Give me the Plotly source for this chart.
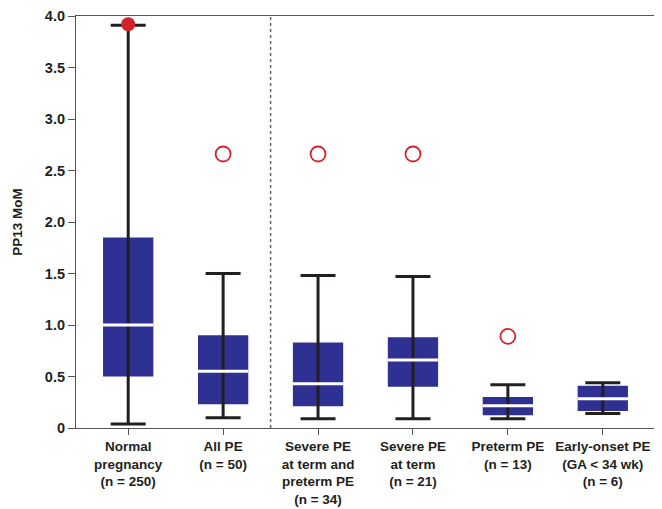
import plotly.graph_objects as go

categories = ["Normal<br>pregnancy<br>(n = 250)", "All PE<br>(n = 50)",
              "Severe PE<br>at term and<br>preterm PE<br>(n = 34)", "Severe PE<br>at term<br>(n = 21)",
              "Preterm PE<br>(n = 13)", "Early-onset PE<br>(GA < 34 wk)<br>(n = 6)"]
lower = [0.04, 0.10, 0.09, 0.09, 0.09, 0.14]
q1 = [0.50, 0.23, 0.21, 0.40, 0.125, 0.165]
median = [1.00, 0.55, 0.43, 0.66, 0.215, 0.285]
q3 = [1.85, 0.90, 0.83, 0.88, 0.30, 0.41]
upper = [3.91, 1.50, 1.48, 1.47, 0.42, 0.44]
max_point_x = [0]
max_point_y = [3.92]
outlier_x = [1, 2, 3, 4]
outlier_y = [2.66, 2.66, 2.66, 0.89]
yticks = [0, 0.5, 1.0, 1.5, 2.0, 2.5, 3.0, 3.5, 4.0]
ytick_text = ["0", "0.5", "1.0", "1.5", "2.0", "2.5", "3.0", "3.5", "4.0"]

xpos = list(range(len(categories)))
BLUE = "#2E3192"
RED = "#D2232A"
INK = "#231F20"
FONT = "Liberation Sans, Arial, sans-serif"

fig = go.Figure()
# whisker stems (lower whisker end to upper whisker end, hidden behind boxes)
fig.add_trace(go.Scatter(x=xpos, y=lower, mode="markers", marker=dict(size=0.1, color="rgba(0,0,0,0)"),
                         error_y=dict(type="data", symmetric=False, array=[u - l for u, l in zip(upper, lower)],
                                      arrayminus=[0] * 6, color=INK, thickness=3, width=0)))
# boxes
fig.add_trace(go.Bar(x=xpos, y=[b - a for a, b in zip(q1, q3)], base=q1, width=0.53,
                     marker=dict(color=BLUE, line=dict(width=0)), hoverinfo="skip"))
# whisker caps
fig.add_trace(go.Scatter(x=xpos + xpos, y=upper + lower, mode="markers",
                         marker=dict(symbol="line-ew", size=25, color=INK, line=dict(color=INK, width=3))))
# medians
fig.add_trace(go.Scatter(x=xpos, y=median, mode="markers", marker=dict(size=0.1, color="rgba(0,0,0,0)"),
                         error_x=dict(type="constant", value=0.265, color="white", thickness=3, width=0)))
# max point
fig.add_trace(go.Scatter(x=max_point_x, y=max_point_y, mode="markers",
                         marker=dict(size=14, color=RED, line=dict(width=0))))
# outliers
fig.add_trace(go.Scatter(x=outlier_x, y=outlier_y, mode="markers",
                         marker=dict(size=15, color="rgba(0,0,0,0)", line=dict(color=RED, width=1.8))))

fig.add_shape(type="line", x0=1.5, x1=1.5, xref="x", y0=0, y1=1, yref="paper",
              line=dict(color="#666666", width=1.5, dash="dot"))

fig.update_layout(
    width=654, height=501, showlegend=False, plot_bgcolor="white", paper_bgcolor="white",
    margin=dict(l=68, r=7, t=8, b=81),
    font=dict(family=FONT, color=INK, size=13),
    xaxis=dict(range=[-0.55, 5.55], tickvals=xpos, ticktext=["<b>" + c.replace("<br>", "</b><br><b>") + "</b>" for c in categories],
               ticks="outside", ticklen=6, automargin=False, ticklabeloverflow="allow",
               tickcolor="#555555", showline=True, linecolor="#555555", linewidth=1.2, mirror=True,
               showgrid=False, zeroline=False, tickfont=dict(family=FONT, size=13.5, color=INK)),
    yaxis=dict(range=[0, 4.0], tickvals=yticks, ticktext=["<b>" + t + "</b>" for t in ytick_text],
               ticks="outside", ticklen=7, automargin=False, ticklabeloverflow="allow",
               tickcolor="#555555", showline=True, linecolor="#555555", linewidth=1.2, mirror=True,
               showgrid=False, zeroline=False, tickfont=dict(family=FONT, size=14.5, color=INK),
               title=dict(text="<b>PP13 MoM</b>", font=dict(family=FONT, size=13.5, color=INK), standoff=19)),
)
fig.write_html("out.html")
